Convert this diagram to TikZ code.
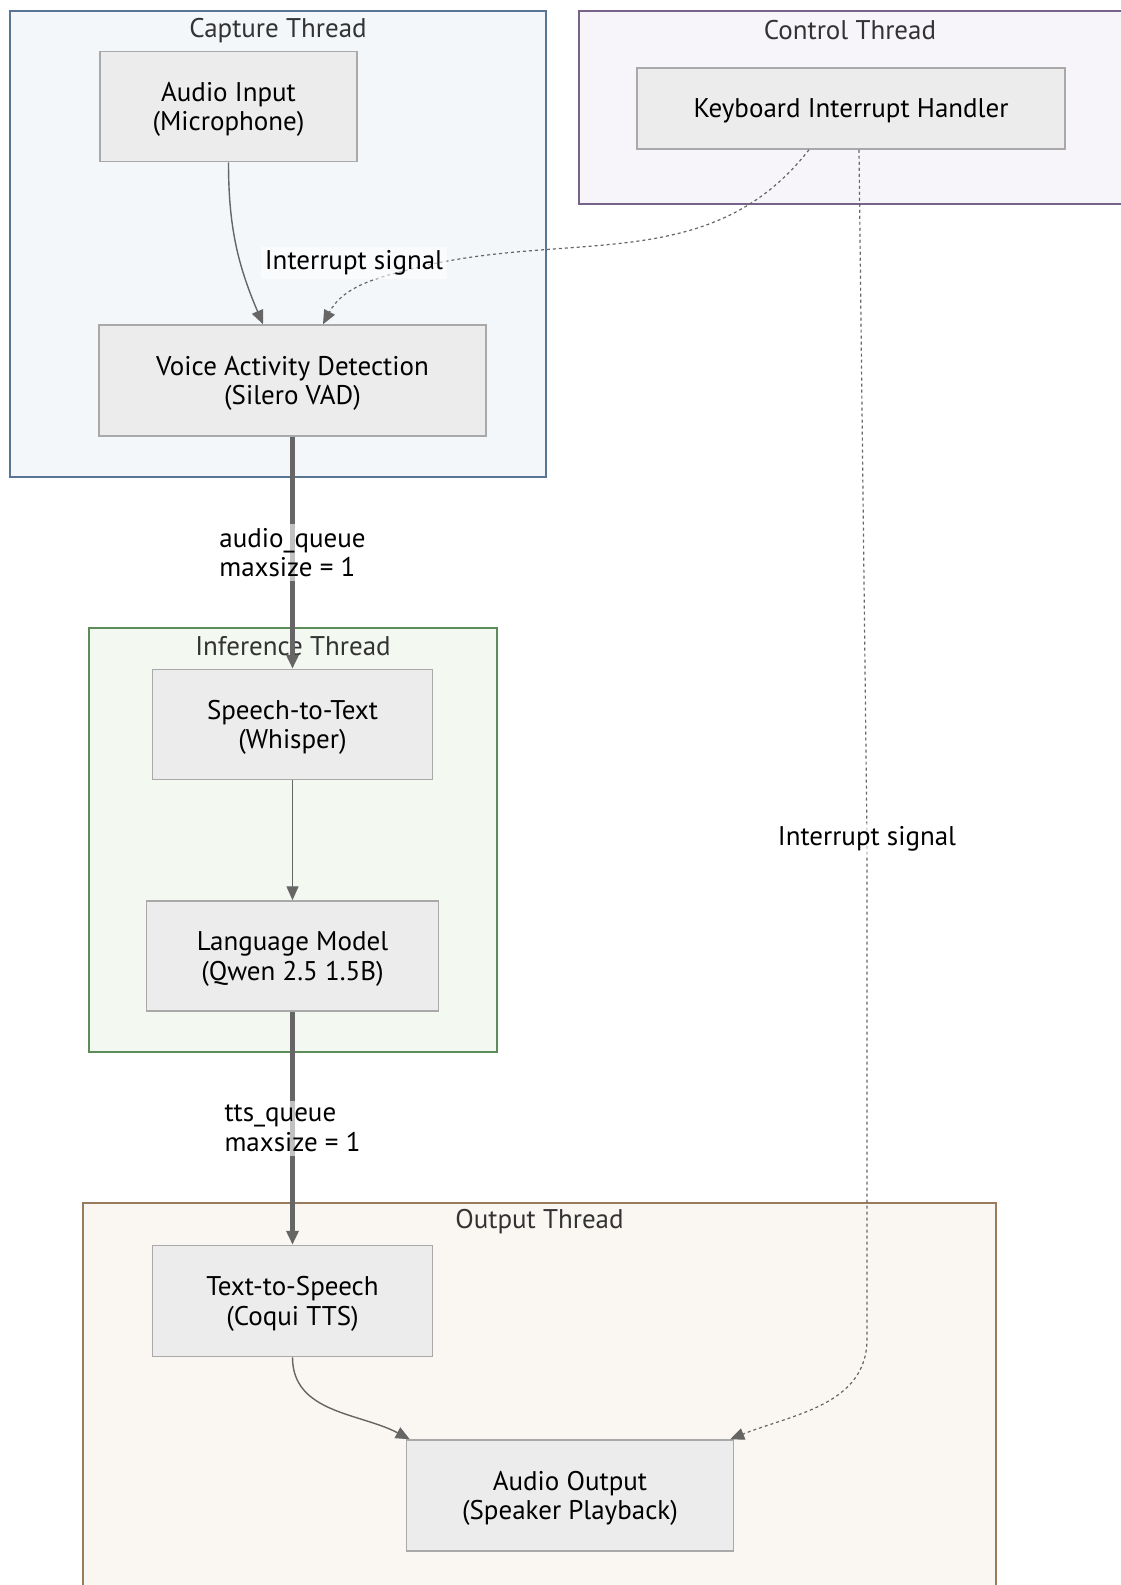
\documentclass[tikz,border=0pt]{standalone}
\usepackage{fontspec}
\setmainfont{PT Sans}
\usetikzlibrary{positioning, arrows.meta}
\definecolor{nodefill}{HTML}{ECECEC}
\definecolor{nodeline}{HTML}{A9A9A9}
\definecolor{edgegray}{HTML}{666666}
\definecolor{titlegray}{HTML}{333333}
\definecolor{capfill}{HTML}{F3F7FA}
\definecolor{capline}{HTML}{587694}
\definecolor{ctlfill}{HTML}{F7F5FA}
\definecolor{ctlline}{HTML}{776389}
\definecolor{inffill}{HTML}{F3F8F1}
\definecolor{infline}{HTML}{5C8C5A}
\definecolor{outfill}{HTML}{FAF7F2}
\definecolor{outline}{HTML}{9A7B5C}
\newcommand{\diagfont}{\fontsize{13.5}{14.7}\selectfont}
\tikzset{
	proc/.style={rectangle, draw=nodeline, fill=nodefill, line width=0.75pt, minimum height=55pt, inner sep=0pt, align=center, font=\diagfont, text depth=-3pt},
	thread/.style={rectangle, line width=1pt, inner sep=0pt},
	threadtitle/.style={font=\diagfont, text=titlegray},
	flow/.style={-{Triangle[length=7pt,width=6pt]}, line width=0.7pt, edgegray},
	queue/.style={-{Triangle[length=7pt,width=6pt]}, line width=2.6pt, edgegray},
	signal/.style={-{Triangle[length=7pt,width=6pt]}, line width=0.6pt, edgegray, dash pattern=on 1.5pt off 1.5pt},
	edgelabel/.style={fill=white, fill opacity=0.6, text opacity=1, text=black, font=\diagfont, align=left, inner sep=2pt}
}
\begin{document}
\begin{tikzpicture}[x=0.5pt, y=0.5pt]
		\useasboundingbox (0,0) rectangle (1120,-1585);
		
		% thread boxes
		\node[thread, draw=capline, fill=capfill, minimum width=268pt, minimum height=233pt] (capture) at (278,-244) {};
		\node[thread, draw=ctlline, fill=ctlfill, minimum width=273pt, minimum height=96.5pt] (control) at (852,-107.5) {};
		\node[thread, draw=infline, fill=inffill, minimum width=204pt, minimum height=212pt] (inference) at (293,-840) {};
		\node[thread, draw=outline, fill=outfill, minimum width=456.5pt, minimum height=196pt] (output) at (539.5,-1399) {};
		
		\node[threadtitle] (captureT) at ([yshift=-10.5pt]capture.north) {Capture Thread};
		\node[threadtitle] (controlT) at ([yshift=-10pt,xshift=-1pt]control.north) {Control Thread};
		\node[threadtitle] (inferenceT) at ([yshift=-9.5pt]inference.north) {Inference Thread};
		\node[threadtitle] (outputT) at ([yshift=-10pt]output.north) {Output Thread};
		
		% stages
		\node[proc, minimum width=193.5pt, minimum height=55.5pt] (vad) at (292.5,-380.5) {Voice Activity Detection\\(Silero VAD)};
		\node[proc, minimum width=128.5pt, above=81pt of vad, xshift=-32pt] (mic) {Audio Input\\(Microphone)};
		\node[proc, minimum width=214pt, minimum height=40.5pt] (kb) at (851,-108.5) {Keyboard Interrupt Handler};
		
		\node[proc, minimum width=140pt, below=116pt of vad] (stt) {Speech-to-Text\\(Whisper)};
		\node[proc, minimum width=146pt, below=60pt of stt] (llm) {Language Model\\(Qwen 2.5 1.5B)};
		\node[proc, minimum width=140pt, minimum height=55.5pt, below=116.5pt of llm] (tts) {Text-to-Speech\\(Coqui TTS)};
		\node[proc, minimum width=163.5pt, minimum height=55.5pt, below=41pt of tts, xshift=138.75pt] (spk) {Audio Output\\(Speaker Playback)};
		
		\coordinate (sigA) at (415,-268);
		\coordinate (sigB) at (867,-839);
		
		\draw[flow] (mic.south) to[out=-90, in=113] ([xshift=-14.75pt]vad.north);
		\draw[queue] (vad) -- (stt) node[edgelabel, midway] {audio\_queue\\maxsize = 1};
		\draw[flow] (stt) -- (llm);
		\draw[queue] (llm) -- (tts) node[edgelabel, midway] {tts\_queue\\maxsize = 1};
		\draw[flow] (tts.south) to[out=-90, in=152] ([xshift=2pt]spk.north west);
		
		\draw[signal] ([xshift=-21pt]kb.south) to[out=-128, in=14] (sigA) to[out=194, in=62] ([xshift=15.25pt]vad.north);
		\node[edgelabel] (sig1) at (354,-263) {Interrupt signal};
		\draw[signal] ([xshift=4pt]kb.south) -- (sigB) -- ++(0,-500) to[out=-90, in=22] ([xshift=-2pt]spk.north east);
		\node[edgelabel] (sig2) at (sigB) {Interrupt signal};
		
	\end{tikzpicture}
\end{document}
